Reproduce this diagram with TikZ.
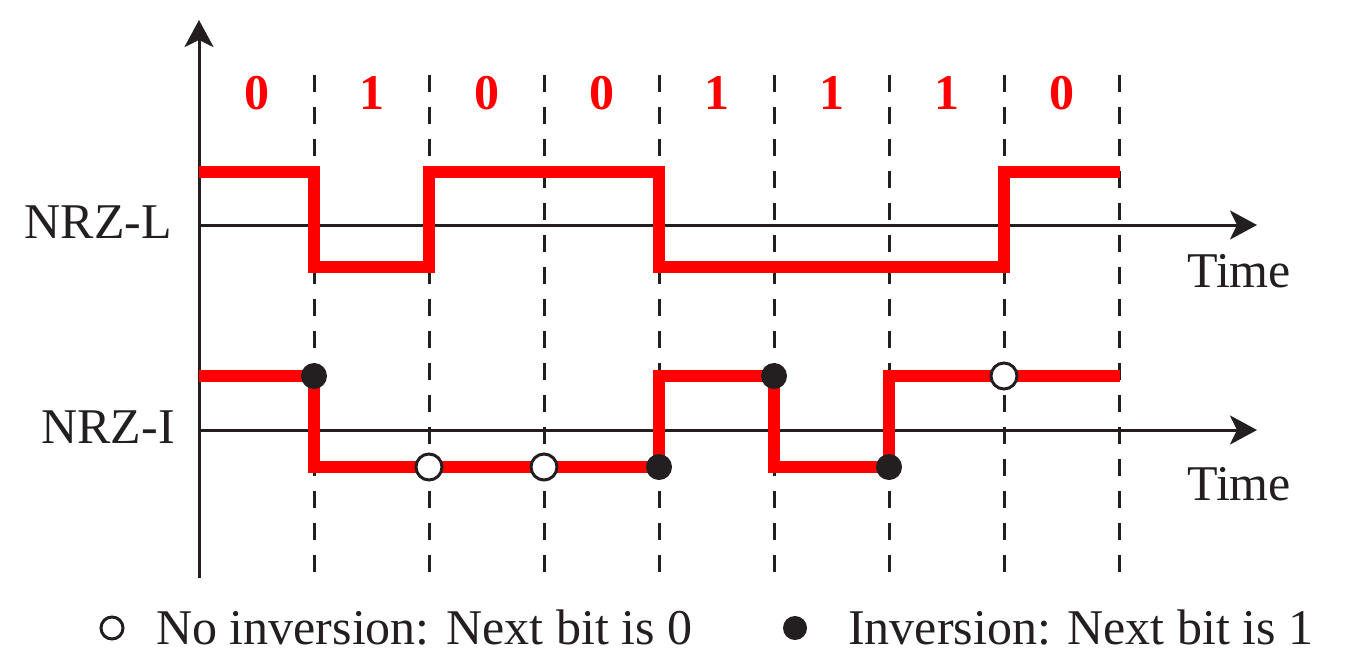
\documentclass[tikz,border=0pt]{standalone}
\usepackage{fontspec}
\setmainfont{Liberation Serif}
\usetikzlibrary{arrows.meta}
\definecolor{sigred}{RGB}{255,0,0}
\definecolor{ink}{RGB}{35,31,32}
\begin{document}
\begin{tikzpicture}[x=1pt,y=-1pt,
 axis/.style={draw=ink, line width=3pt, -{Stealth[length=27pt,width=29pt,inset=7pt]}},
 gridline/.style={draw=ink, line width=3pt, dash pattern=on 17pt off 15pt},
 signal/.style={draw=sigred, line width=12pt, line join=miter},
 lbl/.style={font=\fontsize{50}{60}\selectfont, text=ink, inner sep=0pt},
 bit/.style={font=\fontsize{50}{60}\selectfont\bfseries, text=sigred, inner sep=0pt, anchor=base},
 inv/.style={circle, fill=ink, minimum size=26pt, inner sep=0pt},
 noinv/.style={circle, draw=ink, fill=white, line width=3pt, minimum size=26pt, inner sep=0pt},
]
\useasboundingbox (0,0) rectangle (1369,670);
% dashed bit boundaries
\foreach \x in {314,429,544,659,774,889,1004,1119}
  \draw[gridline] (\x,75) -- (\x,578);
% axes
\coordinate (o) at (199,578);
\coordinate (top) at (199,20);
\coordinate (la) at (199,225);
\coordinate (lb) at (1257,225);
\coordinate (ia) at (199,430);
\coordinate (ib) at (1257,430);
\draw[axis] (o) -- (top);
\draw[axis] (la) -- (lb);
\draw[axis] (ia) -- (ib);
% bits
\foreach \b/\x [count=\i] in {0/256.5,1/371.5,0/486.5,0/601.5,1/716.5,1/831.5,1/946.5,0/1061.5}
  \node[bit] (bit\i) at (\x,109) {\b};
% NRZ-L
\draw[signal] (199,172) -- (314,172) -- (314,267) -- (429,267) -- (429,172) -- (659,172)
  -- (659,267) -- (1004,267) -- (1004,172) -- (1120,172);
% NRZ-I
\draw[signal] (199,376) -- (314,376) -- (314,467) -- (659,467) -- (659,376) -- (774,376)
  -- (774,467) -- (889,467) -- (889,376) -- (1120,376);
% transition dots
\node[inv] (d1) at (314,376) {};
\node[noinv] (d2) at (429,467) {};
\node[noinv] (d3) at (544,467) {};
\node[inv] (d4) at (659,467) {};
\node[inv] (d5) at (774,376) {};
\node[inv] (d6) at (889,467) {};
\node[noinv] (d7) at (1004,376) {};
% labels
\node[lbl, anchor=base east] (nrzl) at (172,238) {NRZ-L};
\node[lbl, anchor=base east] (nrzi) at (175,443) {NRZ-I};
\node[lbl, anchor=base west] (t1) at (1187,287) {Time};
\node[lbl, anchor=base west] (t2) at (1187,500) {Time};
% legend
\node[noinv, minimum size=22pt] (lo) at (112,628) {};
\node[lbl, anchor=base west] (lot) at (156,644) {No inversion: Next bit is 0};
\node[inv, minimum size=24pt] (li) at (795,628) {};
\node[lbl, anchor=base west] (lit) at (848,644) {Inversion: Next bit is 1};
\end{tikzpicture}
\end{document}
